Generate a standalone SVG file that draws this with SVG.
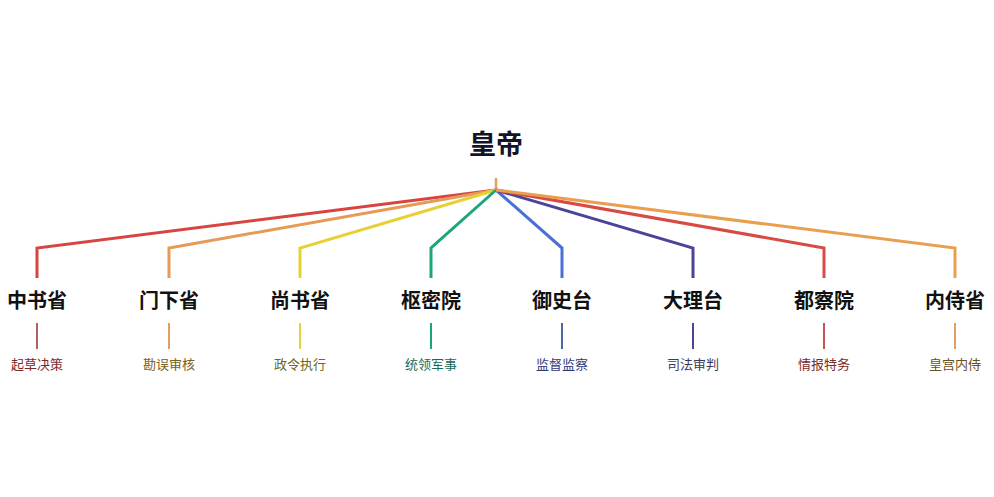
<svg xmlns="http://www.w3.org/2000/svg" width="994" height="497" viewBox="0 0 994 497">
<style>
.t{font-family:"Noto Sans CJK SC","Noto Sans",sans-serif;text-anchor:middle}
.root{font-size:27px;font-weight:bold;fill:#141428}
.n{font-size:20px;font-weight:bold;fill:#111}
.s{font-size:13px}
.c{fill:none;stroke-width:3;stroke-linejoin:miter}
.st{stroke-width:2}
</style>
<rect width="994" height="497" fill="#fff"/>
<g id="connectors">
<line x1="496" y1="178" x2="496" y2="190" stroke="#e0a060" stroke-width="2.5"/>
<path class="c" stroke="#d64541" d="M496,190 L37,248 V278"/>
<path class="c" stroke="#e59a55" d="M496,190 L169,248 V278"/>
<path class="c" stroke="#e8cf35" d="M496,190 L300,248 V278"/>
<path class="c" stroke="#1aa57a" d="M496,190 L431,248 V278"/>
<path class="c" stroke="#4a6fd6" d="M496,190 L562,248 V278"/>
<path class="c" stroke="#4a4499" d="M496,190 L693,248 V278"/>
<path class="c" stroke="#d84a44" d="M496,190 L824,248 V278"/>
<path class="c" stroke="#e8a050" d="M496,190 L955,248 V278"/>
<line class="st" x1="37" y1="323" x2="37" y2="349" stroke="#b06060"/>
<line class="st" x1="169" y1="323" x2="169" y2="349" stroke="#e0a060"/>
<line class="st" x1="300" y1="323" x2="300" y2="349" stroke="#e8d040"/>
<line class="st" x1="431" y1="323" x2="431" y2="349" stroke="#1aa57a"/>
<line class="st" x1="562" y1="323" x2="562" y2="349" stroke="#4a6aa0"/>
<line class="st" x1="693" y1="323" x2="693" y2="349" stroke="#4a4499"/>
<line class="st" x1="824" y1="323" x2="824" y2="349" stroke="#c85050"/>
<line class="st" x1="955" y1="323" x2="955" y2="349" stroke="#e0a060"/>
</g>
<g id="root"><text class="t root" x="496" y="154">皇帝</text></g>
<g id="n1"><text class="t n" x="37" y="308">中书省</text><text class="t s" x="37" y="369" fill="#7a2a2a">起草决策</text></g>
<g id="n2"><text class="t n" x="169" y="308">门下省</text><text class="t s" x="169" y="369" fill="#7a6020">勘误审核</text></g>
<g id="n3"><text class="t n" x="300" y="308">尚书省</text><text class="t s" x="300" y="369" fill="#6a6a20">政令执行</text></g>
<g id="n4"><text class="t n" x="431" y="308">枢密院</text><text class="t s" x="431" y="369" fill="#1a6a5a">统领军事</text></g>
<g id="n5"><text class="t n" x="562" y="308">御史台</text><text class="t s" x="562" y="369" fill="#2a3a7a">监督监察</text></g>
<g id="n6"><text class="t n" x="693" y="308">大理台</text><text class="t s" x="693" y="369" fill="#3a3a5a">司法审判</text></g>
<g id="n7"><text class="t n" x="824" y="308">都察院</text><text class="t s" x="824" y="369" fill="#7a2a2a">情报特务</text></g>
<g id="n8"><text class="t n" x="955" y="308">内侍省</text><text class="t s" x="955" y="369" fill="#6a5020">皇宫内侍</text></g>
</svg>
